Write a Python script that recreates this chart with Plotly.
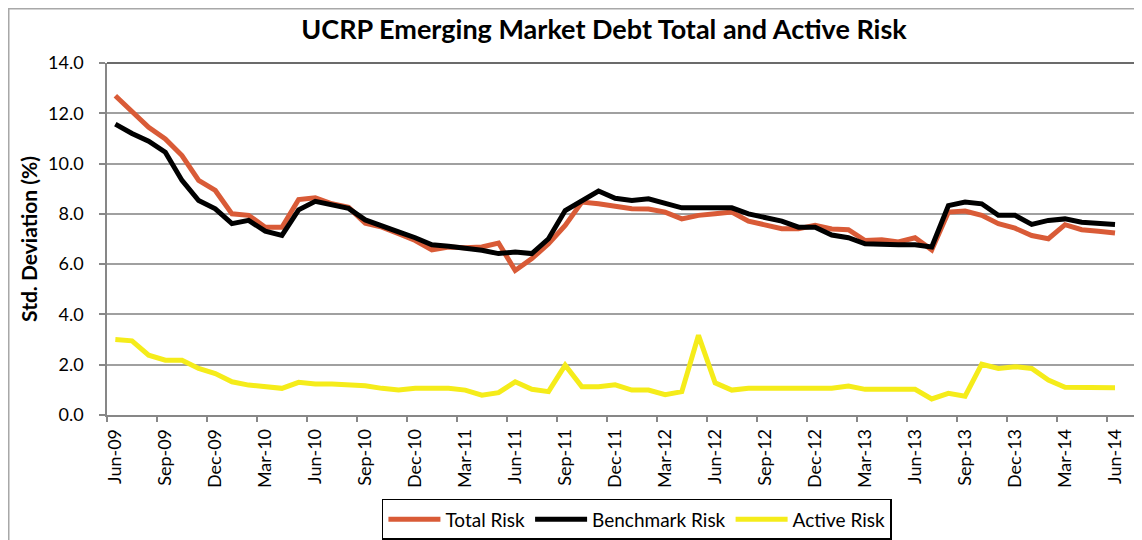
import plotly.graph_objects as go

months = ["Jun-09","Jul-09","Aug-09","Sep-09","Oct-09","Nov-09","Dec-09","Jan-10","Feb-10","Mar-10","Apr-10","May-10",
          "Jun-10","Jul-10","Aug-10","Sep-10","Oct-10","Nov-10","Dec-10","Jan-11","Feb-11","Mar-11","Apr-11","May-11",
          "Jun-11","Jul-11","Aug-11","Sep-11","Oct-11","Nov-11","Dec-11","Jan-12","Feb-12","Mar-12","Apr-12","May-12",
          "Jun-12","Jul-12","Aug-12","Sep-12","Oct-12","Nov-12","Dec-12","Jan-13","Feb-13","Mar-13","Apr-13","May-13",
          "Jun-13","Jul-13","Aug-13","Sep-13","Oct-13","Nov-13","Dec-13","Jan-14","Feb-14","Mar-14","Apr-14","May-14",
          "Jun-14"]

total_risk = [12.70, 12.10, 11.44, 10.98, 10.32, 9.33, 8.93, 8.00, 7.94, 7.47, 7.47, 8.57,
              8.64, 8.40, 8.26, 7.63, 7.47, 7.21, 6.94, 6.57, 6.68, 6.65, 6.68, 6.84,
              5.75, 6.22, 6.81, 7.54, 8.47, 8.40, 8.29, 8.20, 8.19, 8.07, 7.80, 7.94,
              8.00, 8.07, 7.71, 7.57, 7.41, 7.41, 7.54, 7.40, 7.37, 6.94, 6.97, 6.88,
              7.05, 6.57, 8.07, 8.11, 7.94, 7.61, 7.43, 7.14, 7.01, 7.57, 7.37, 7.31,
              7.24]

benchmark_risk = [11.57, 11.20, 10.89, 10.45, 9.33, 8.53, 8.20, 7.61, 7.74, 7.31, 7.14, 8.16,
                  8.50, 8.37, 8.22, 7.76, 7.50, 7.28, 7.05, 6.77, 6.71, 6.65, 6.55, 6.42,
                  6.48, 6.42, 7.01, 8.13, 8.50, 8.91, 8.62, 8.53, 8.60, 8.40, 8.24, 8.24,
                  8.24, 8.24, 8.00, 7.84, 7.71, 7.47, 7.47, 7.16, 7.05, 6.81, 6.77, 6.77,
                  6.77, 6.68, 8.33, 8.47, 8.40, 7.94, 7.94, 7.58, 7.74, 7.80, 7.67, 7.61,
                  7.58]

active_risk = [3.00, 2.95, 2.38, 2.18, 2.18, 1.85, 1.65, 1.32, 1.19, 1.12, 1.06, 1.30,
               1.23, 1.23, 1.22, 1.16, 1.06, 0.99, 1.06, 1.06, 1.06, 0.99, 0.79, 0.89,
               1.32, 1.02, 0.93, 1.98, 1.12, 1.12, 1.20, 0.99, 0.99, 0.81, 0.93, 3.17,
               1.28, 0.99, 1.06, 1.06, 1.06, 1.06, 1.06, 1.06, 1.15, 1.02, 1.02, 1.02,
               1.02, 0.64, 0.86, 0.75, 2.02, 1.85, 1.92, 1.85, 1.39, 1.10, 1.10, 1.10,
               1.08]

y_ticks = [0, 2, 4, 6, 8, 10, 12, 14]

FONT = "Lato"
idx = list(range(len(months)))
label_idx = idx[::3]
label_txt = [months[i] for i in label_idx]
bound_idx = [i - 0.5 for i in label_idx]

fig = go.Figure()
fig.add_trace(go.Scatter(x=idx, y=total_risk, mode="lines", name="Total Risk",
                         line=dict(color="#D95B37", width=5)))
fig.add_trace(go.Scatter(x=idx, y=benchmark_risk, mode="lines", name="Benchmark Risk",
                         line=dict(color="#000000", width=5)))
fig.add_trace(go.Scatter(x=idx, y=active_risk, mode="lines", name="Active Risk",
                         line=dict(color="#F5EC1A", width=5)))
# invisible trace on overlay axis for boundary tick marks
fig.add_trace(go.Scatter(x=[idx[0]], y=[None], xaxis="x2", showlegend=False, hoverinfo="skip"))

# one empty category slot after the last month, as in the original axis
xr = [-0.5, len(months) + 0.5]
# page body has an 8px margin, so the figure is 8px smaller and offset
fig.update_layout(
    width=1134, height=532,
    margin=dict(l=99, r=2, t=55, b=125, autoexpand=False),
    paper_bgcolor="white", plot_bgcolor="white",
    font=dict(family=FONT, color="#000000"),
    title=dict(text="<b>UCRP Emerging Market Debt Total and Active Risk</b>",
               xref="container", x=0.5256, xanchor="center",
               yref="container", y=0.9586, yanchor="middle",
               font=dict(size=27, family=FONT)),
    xaxis=dict(range=xr, tickmode="array", tickvals=label_idx, ticktext=label_txt,
               tickangle=-90, ticks="", showgrid=False, zeroline=False,
               showline=True, linecolor="#878787", linewidth=1.5,
               ticklabelstandoff=5, automargin=False,
               tickfont=dict(size=18, family=FONT)),
    xaxis2=dict(range=xr, overlaying="x", side="bottom", tickmode="array",
                tickvals=bound_idx, showticklabels=False, ticks="outside",
                ticklen=6, tickwidth=1.5, tickcolor="#878787", showgrid=False,
                zeroline=False, showline=False, automargin=False),
    yaxis=dict(range=[0, 14], tickmode="array", tickvals=y_ticks,
               tickformat=".1f", showgrid=True, gridcolor="#A0A0A0", gridwidth=1.5,
               zeroline=False, showline=True, linecolor="#878787", linewidth=1.5,
               ticks="outside", ticklen=6, tickwidth=1.5, tickcolor="#878787",
               ticklabelstandoff=12, automargin=False,
               tickfont=dict(size=18, family=FONT),
               title=dict(text="<b>Std. Deviation (%)</b>", font=dict(size=21, family=FONT),
                          standoff=5)),
    legend=dict(orientation="h", x=0.513, xanchor="center", y=-0.238, yanchor="top",
                bordercolor="#000000", borderwidth=1.5, bgcolor="white",
                font=dict(size=19, family=FONT), itemwidth=52, tracegroupgap=0),
    showlegend=True,
)
# chart-area border
fig.add_shape(type="rect", xref="paper", yref="paper",
              x0=-0.0951, x1=1.0, y0=-0.40, y1=1.154,
              line=dict(color="#A8A8A8", width=1.5), layer="below")
# plot-area border (top and right edges)
fig.add_shape(type="line", xref="paper", yref="paper", x0=0, x1=1, y0=1, y1=1,
              line=dict(color="#3A3A3A", width=1.5))
fig.add_shape(type="line", xref="paper", yref="paper", x0=1, x1=1, y0=0, y1=1,
              line=dict(color="#3A3A3A", width=1.5))

fig.write_html("out.html")
